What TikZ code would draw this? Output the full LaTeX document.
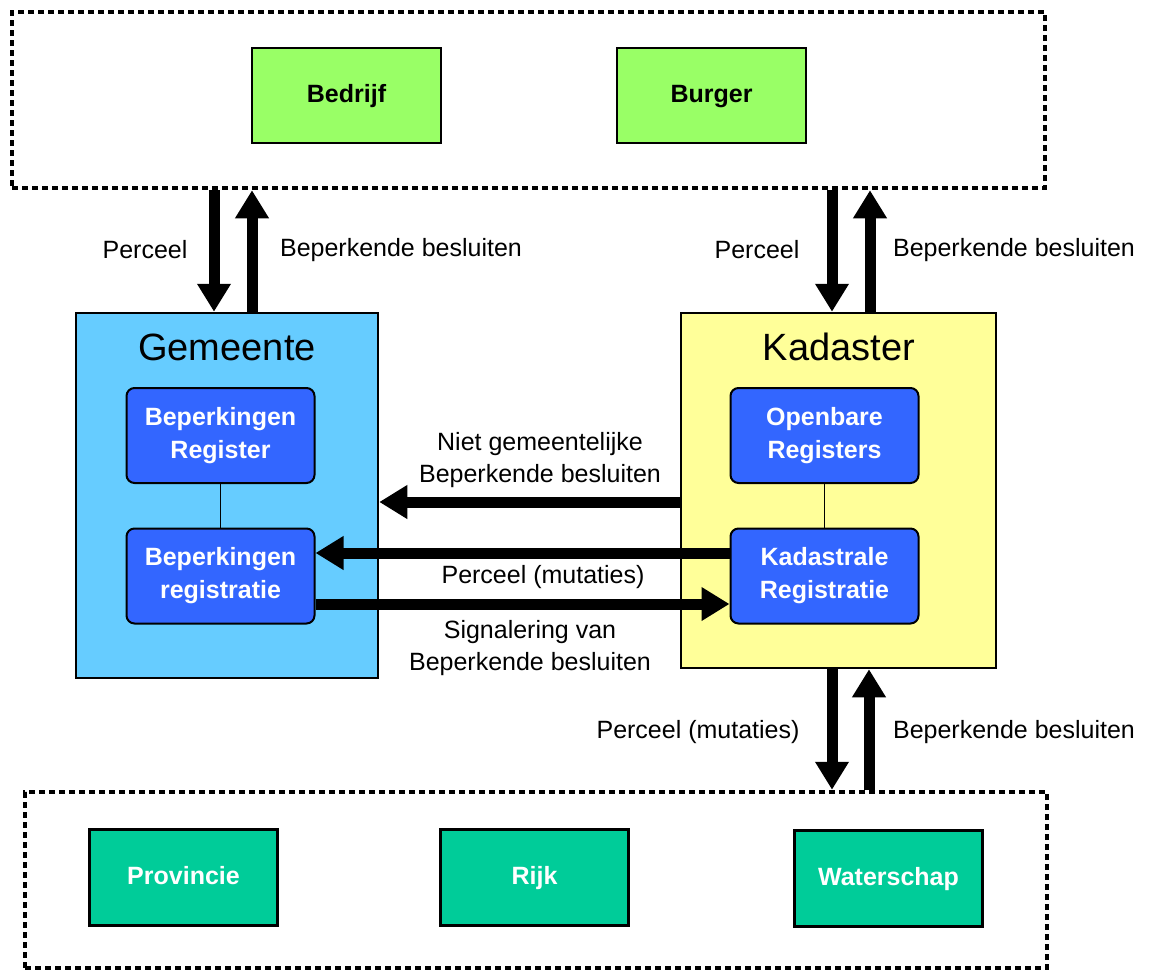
\documentclass[tikz,border=0pt]{standalone}
\usepackage{fontspec}
\setmainfont{Liberation Sans}
\usetikzlibrary{arrows.meta}
\definecolor{cgreen}{HTML}{99FF66}
\definecolor{cgem}{HTML}{66CCFF}
\definecolor{ckad}{HTML}{FFFF99}
\definecolor{cblue}{HTML}{3366FF}
\definecolor{cteal}{HTML}{00CC99}
\begin{document}
\begin{tikzpicture}[x=1pt,y=-1pt,
  container/.style={draw, rectangle, line width=4.5pt, dash pattern=on 6pt off 4pt, inner sep=0pt},
  actor/.style={draw, rectangle, line width=2.5pt, fill=cgreen, inner sep=0pt, minimum width=189pt, minimum height=95pt, text height=18pt, text depth=5pt, font=\fontsize{25}{30}\selectfont\bfseries},
  org/.style={draw, rectangle, line width=2.5pt, inner sep=0pt},
  reg/.style={draw, rectangle, rounded corners=8pt, line width=2pt, fill=cblue, text=white, inner sep=0pt, minimum width=188pt, minimum height=95pt, align=center, font=\fontsize{25}{33}\selectfont\bfseries},
  auth/.style={draw, rectangle, line width=2.5pt, fill=cteal, text=white, inner sep=0pt, minimum width=188pt, minimum height=96pt, text height=18pt, text depth=5pt, font=\fontsize{25}{30}\selectfont\bfseries},
  title/.style={font=\fontsize{38}{44}\selectfont},
  lbl/.style={font=\fontsize{25}{32}\selectfont, align=center, inner sep=0pt},
  bigarrow/.style={line width=11pt, -{Triangle[width=32pt,length=28pt]}},
  thin/.style={line width=1.5pt}
]
\useasboundingbox (0,0) rectangle (1152,970);

% containers
\node[container, minimum width=1033pt, minimum height=176pt] (top) at (528.5,100) {};
\node[container, minimum width=1022pt, minimum height=176pt] (bot) at (536,880) {};

% actors
\node[actor] (bedrijf) at (346.5,95.5) {Bedrijf};
\node[actor] (burger) at (711.5,95.5) {Burger};

% organisations
\node[org, fill=cgem, minimum width=302pt, minimum height=365pt] (gem) at (227,495.5) {};
\node[org, fill=ckad, minimum width=315pt, minimum height=355pt] (kad) at (838.5,490.5) {};
\node[title] (gemt) at (227,347) {Gemeente};
\node[title] (kadt) at (839,347) {Kadaster};

% registers
\node[reg] (br1) at (220.5,435.5) {Beperkingen\\Register};
\node[reg] (br2) at (220.5,576) {Beperkingen\\registratie};
\node[reg] (ob) at (824.5,435.5) {Openbare\\Registers};
\node[reg] (kr) at (824.5,576) {Kadastrale\\Registratie};
\draw[thin] (br1) -- (br2);
\draw[thin] (ob) -- (kr);

% authorities
\node[auth] (prov) at (183.5,877.5) {Provincie};
\node[auth] (rijk) at (534.5,877.5) {Rijk};
\node[auth] (water) at (888.5,878.5) {Waterschap};

% vertical arrows top-left
\draw[bigarrow] (top.south -| 214,0) -- (gem.north -| 214,0);
\draw[bigarrow] (gem.north -| 252,0) -- (top.south -| 252,0);
% vertical arrows top-right
\draw[bigarrow] (top.south -| 832,0) -- (kad.north -| 832,0);
\draw[bigarrow] (kad.north -| 870,0) -- (top.south -| 870,0);
% vertical arrows bottom
\draw[bigarrow] (kad.south -| 832,0) -- (bot.north -| 832,0);
\draw[bigarrow] (bot.north -| 869,0) -- (kad.south -| 869,0);

% horizontal arrows
\draw[bigarrow] (kad.west |- 0,502) -- (gem.east |- 0,502);
\draw[bigarrow] ([yshift=23pt]kr.west) -- ([yshift=23pt]br2.east);
\draw[bigarrow] ([yshift=-28pt]br2.east) -- ([yshift=-28pt]kr.west);

% labels
\node[lbl] (l1) at (145,250) {Perceel};
\node[lbl] (l2) at (401,250) {Beperkende besluiten};
\node[lbl] (l3) at (757,250) {Perceel};
\node[lbl] (l4) at (1014,250) {Beperkende besluiten};
\node[lbl] (l5) at (698,732) {Perceel (mutaties)};
\node[lbl] (l6) at (1014,732) {Beperkende besluiten};
\node[lbl] (l7) at (540,460) {Niet gemeentelijke\\Beperkende besluiten};
\node[lbl] (l8) at (543,577) {Perceel (mutaties)};
\node[lbl] (l9) at (530,648) {Signalering van\\Beperkende besluiten};
\end{tikzpicture}
\end{document}
